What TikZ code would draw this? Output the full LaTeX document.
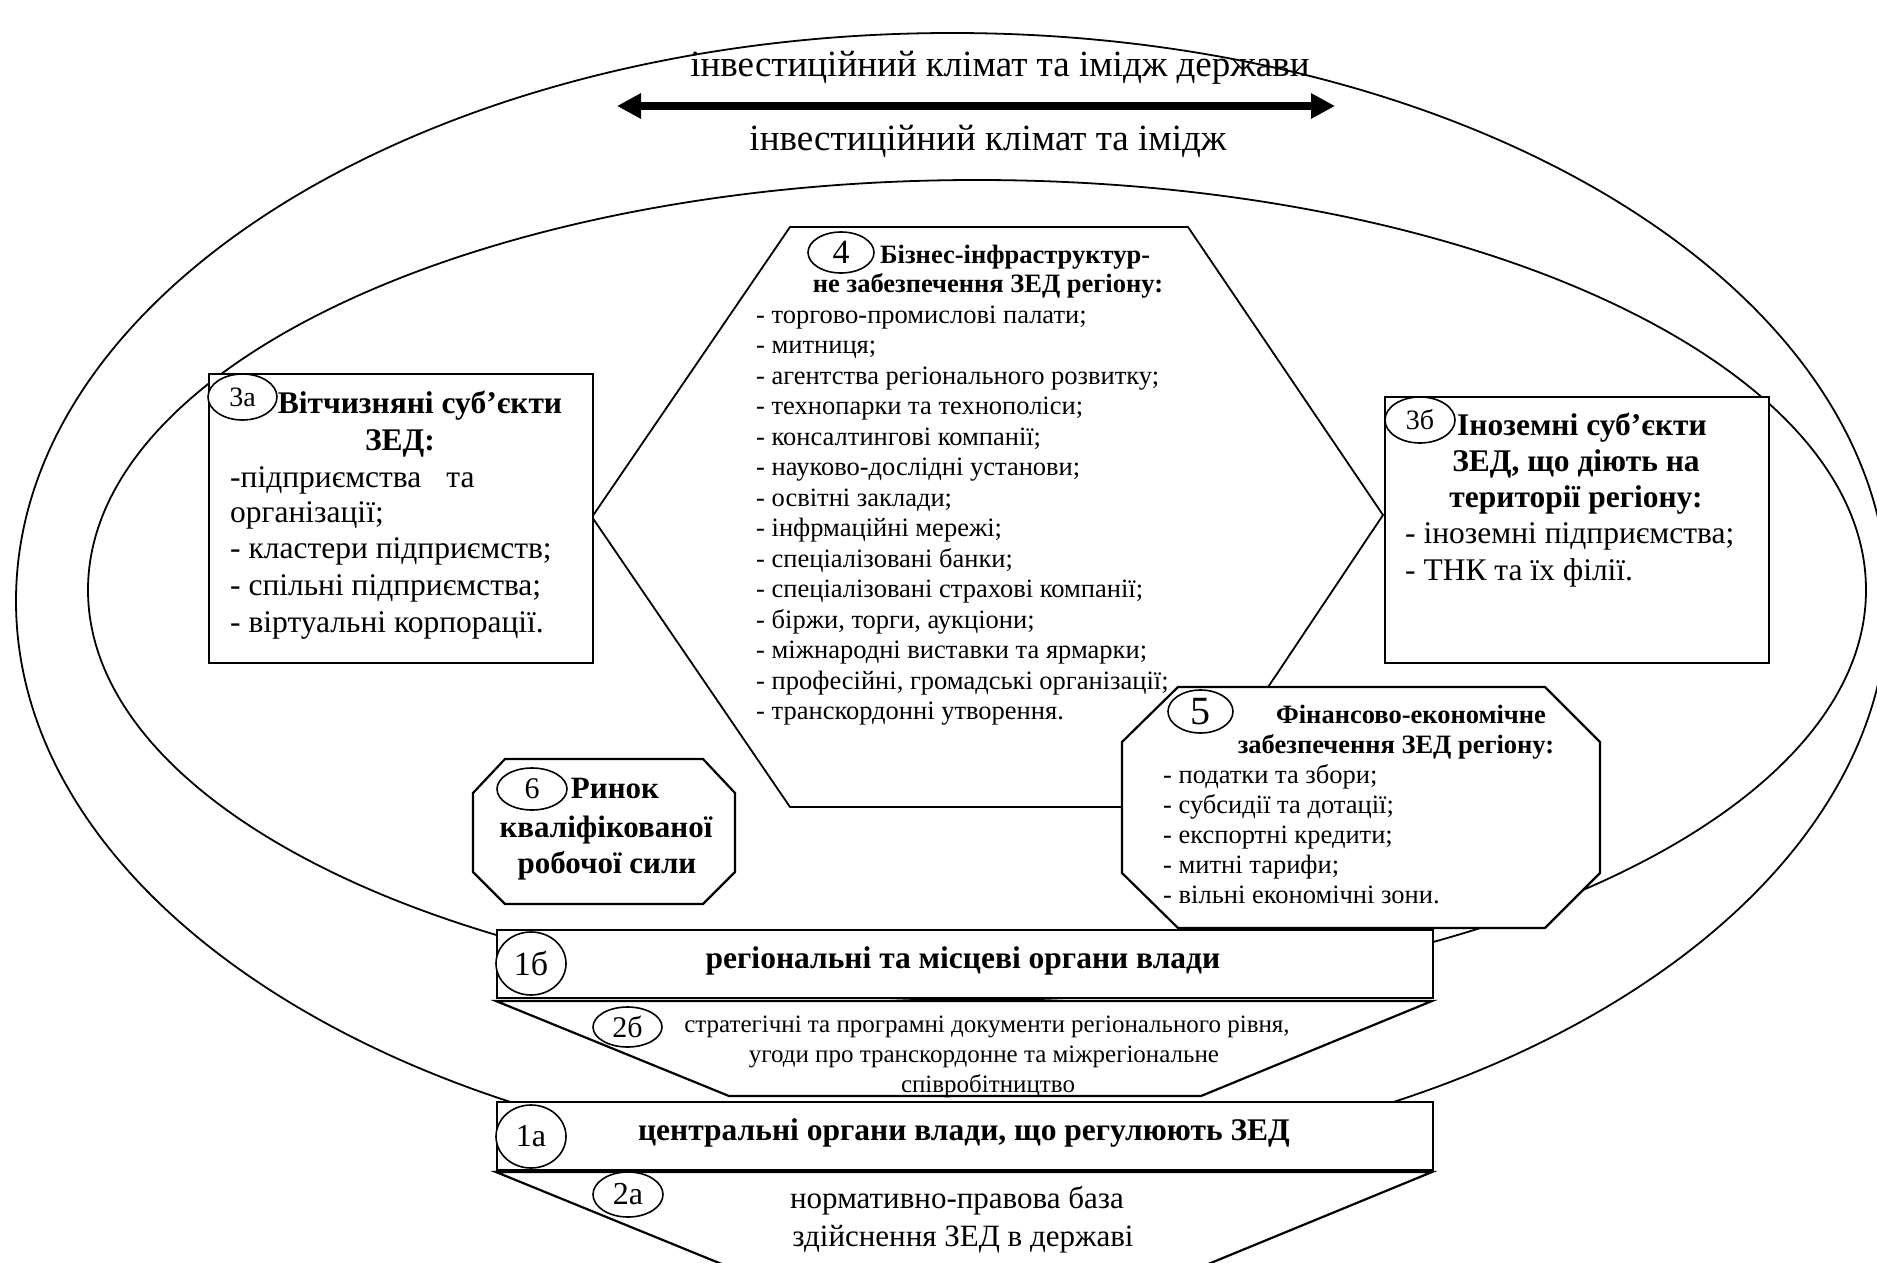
\documentclass[tikz,border=0pt]{standalone}
\usepackage{fontspec}
\setmainfont{Liberation Serif}
\usetikzlibrary{arrows.meta,shapes.geometric}
\begin{document}
\begin{tikzpicture}[x=1pt,y=-1pt,
  ring/.style={draw,line width=1.8pt},
  frame/.style={draw,line width=2.2pt,fill=white,line join=miter},
  tag/.style={draw,ellipse,line width=1.6pt,fill=white,inner sep=0pt},
  ctr/.style={inner sep=0pt,anchor=base},
  lft/.style={inner sep=0pt,anchor=base west},
  big/.style={font=\fontsize{37}{44}\selectfont},
  mid/.style={font=\fontsize{31.5}{37}\selectfont},
  midb/.style={font=\fontsize{31.5}{37}\selectfont\bfseries},
  sml/.style={font=\fontsize{26.5}{30}\selectfont},
  smlb/.style={font=\fontsize{26.5}{30}\selectfont\bfseries},
]
\useasboundingbox (0,0) rectangle (1877,1263);
\fill[white] (0,0) rectangle (1877,1263);

% outer ring (state level) and inner ring (regional level)
\draw[ring] (952,601) ellipse [x radius=936pt, y radius=568pt];
\draw[ring] (977,590) ellipse [x radius=889pt, y radius=410pt];

% investment climate and image
\node[ctr,big] (climA) at (1000,77) {інвестиційний клімат та імідж держави};
\node[ctr,big] (climB) at (988,150) {інвестиційний клімат та імідж};
\coordinate (arrL) at (617,106);
\coordinate (arrR) at (1335,106);
\draw[line width=8pt,{Triangle[length=24pt,width=24pt]}-{Triangle[length=24pt,width=24pt]}] (arrL) -- (arrR);

% block 4: business infrastructure (hexagon)
\draw[ring,fill=white] (790,227) -- (1188,227) -- (1383,515) -- (1188,807) -- (790,807) -- (592,517) -- cycle;

% blocks 3a and 3b
\node[frame,rectangle,anchor=north west,minimum width=384pt,minimum height=289pt,inner sep=0pt] (box3a) at (208,373) {};
\node[frame,rectangle,anchor=north west,minimum width=384pt,minimum height=266pt,inner sep=0pt] (box3b) at (1384,396) {};

% block 5: financial and economic support (octagon)
\draw[frame] (1178,687) -- (1545,687) -- (1600,742) -- (1600,873) -- (1545,928) -- (1178,928) -- (1122,873) -- (1122,742) -- cycle;

% block 6: labour market (octagon)
\draw[frame] (505,759) -- (703,759) -- (735,793) -- (735,872) -- (703,904) -- (505,904) -- (473,872) -- (473,793) -- cycle;

% authorities and their documents
\node[frame,rectangle,anchor=north west,minimum width=936pt,minimum height=68pt,inner sep=0pt] (box1b) at (496,929) {};
\draw[frame] (496,1001) -- (1432,1001) -- (1201,1096) -- (729,1096) -- cycle;
\node[frame,rectangle,anchor=north west,minimum width=936pt,minimum height=68pt,inner sep=0pt] (box1a) at (496,1101) {};
\draw[frame] (496,1172) -- (1432,1172) -- (1201,1267) -- (729,1267) -- cycle;

% numbered tags
\node[tag,minimum width=69pt,minimum height=46pt,font=\fontsize{28}{30}\selectfont] (n3a) at (242.5,397) {3а};
\node[tag,minimum width=70pt,minimum height=46pt,font=\fontsize{28}{30}\selectfont] (n3b) at (1420,420) {3б};
\node[tag,minimum width=66pt,minimum height=41pt,font=\fontsize{34}{36}\selectfont] (n4) at (841,252.5) {4};
\node[tag,minimum width=65pt,minimum height=43pt,font=\fontsize{40}{42}\selectfont] (n5) at (1200.5,711.5) {5};
\node[tag,minimum width=70pt,minimum height=42pt,font=\fontsize{30}{32}\selectfont] (n6) at (532,789) {6};
\node[tag,minimum width=70pt,minimum height=63pt,font=\fontsize{34}{36}\selectfont] (n1b) at (531,963.5) {1б};
\node[tag,minimum width=69pt,minimum height=40pt,font=\fontsize{30}{32}\selectfont] (n2b) at (627.5,1027) {2б};
\node[tag,minimum width=70pt,minimum height=63pt,font=\fontsize{32}{34}\selectfont] (n1a) at (531,1136.5) {1а};
\node[tag,minimum width=70pt,minimum height=45pt,font=\fontsize{32}{34}\selectfont] (n2a) at (628,1194.5) {2а};

% texts of block 3a
\node[ctr,midb] (t3a1) at (420,413) {Вітчизняні суб’єкти};
\node[ctr,midb] (t3a2) at (400,450) {ЗЕД:};
\node[lft,mid] (t3a3) at (230,487) {-підприємства\hspace{25pt}та};
\node[lft,mid] (t3a4) at (230,522) {організації;};
\node[lft,mid] (t3a5) at (230,558) {- кластери підприємств;};
\node[lft,mid] (t3a6) at (230,595) {- спільні підприємства;};
\node[lft,mid] (t3a7) at (230,632) {- віртуальні корпорації.};

% texts of block 3b
\node[ctr,midb] (t3b1) at (1582,435) {Іноземні суб’єкти};
\node[ctr,midb] (t3b2) at (1576,471) {ЗЕД, що діють на};
\node[ctr,midb] (t3b3) at (1576,507) {території регіону:};
\node[lft,mid] (t3b4) at (1405,543) {- іноземні підприємства;};
\node[lft,mid] (t3b5) at (1405,580) {- ТНК та їх філії.};

% texts of block 4
\node[lft,smlb] (t4a) at (880,263) {Бізнес-інфраструктур-};
\node[ctr,smlb] (t4b) at (988,292) {не забезпечення ЗЕД регіону:};
\foreach \entry [count=\i] in {торгово-промислові палати;,митниця;,агентства регіонального розвитку;,технопарки та технополіси;,консалтингові компанії;,науково-дослідні установи;,освітні заклади;,інфрмаційні мережі;,спеціалізовані банки;,спеціалізовані страхові компанії;,{біржи, торги, аукціони;},міжнародні виставки та ярмарки;,{професійні, громадські організації;},транскордонні утворення.}
  \node[lft,sml] (t4l\i) at (756,{323+30.5*(\i-1)}) {- \entry};

% texts of block 5
\node[ctr,smlb] (t5a) at (1411,723) {Фінансово-економічне};
\node[ctr,smlb] (t5b) at (1396,753) {забезпечення ЗЕД регіону:};
\foreach \entry [count=\i] in {податки та збори;,субсидії та дотації;,експортні кредити;,митні тарифи;,вільні економічні зони.}
  \node[lft,sml] (t5l\i) at (1163,{783+30*(\i-1)}) {- \entry};

% texts of block 6
\node[ctr,font=\fontsize{31}{36}\selectfont\bfseries] (t6a) at (615,798) {Ринок};
\node[ctr,font=\fontsize{31}{36}\selectfont\bfseries] (t6b) at (606,837) {кваліфікованої};
\node[ctr,font=\fontsize{31}{36}\selectfont\bfseries] (t6c) at (607,873) {робочої сили};

% texts of the authority blocks
\node[ctr,midb] (t1b) at (963,968) {регіональні та місцеві органи влади};
\node[ctr,font=\fontsize{25}{29}\selectfont] (t2b1) at (987,1032) {стратегічні та програмні документи регіонального рівня,};
\node[ctr,font=\fontsize{25}{29}\selectfont] (t2b2) at (984,1062) {угоди про транскордонне та міжрегіональне};
\node[ctr,font=\fontsize{25}{29}\selectfont] (t2b3) at (988,1092) {співробітництво};
\node[ctr,midb] (t1a) at (964,1140) {центральні органи влади, що регулюють ЗЕД};
\node[ctr,font=\fontsize{31}{36}\selectfont] (t2a1) at (957,1208) {нормативно-правова база};
\node[ctr,font=\fontsize{31}{36}\selectfont] (t2a2) at (963,1246) {здійснення ЗЕД в державі};
\end{tikzpicture}
\end{document}
